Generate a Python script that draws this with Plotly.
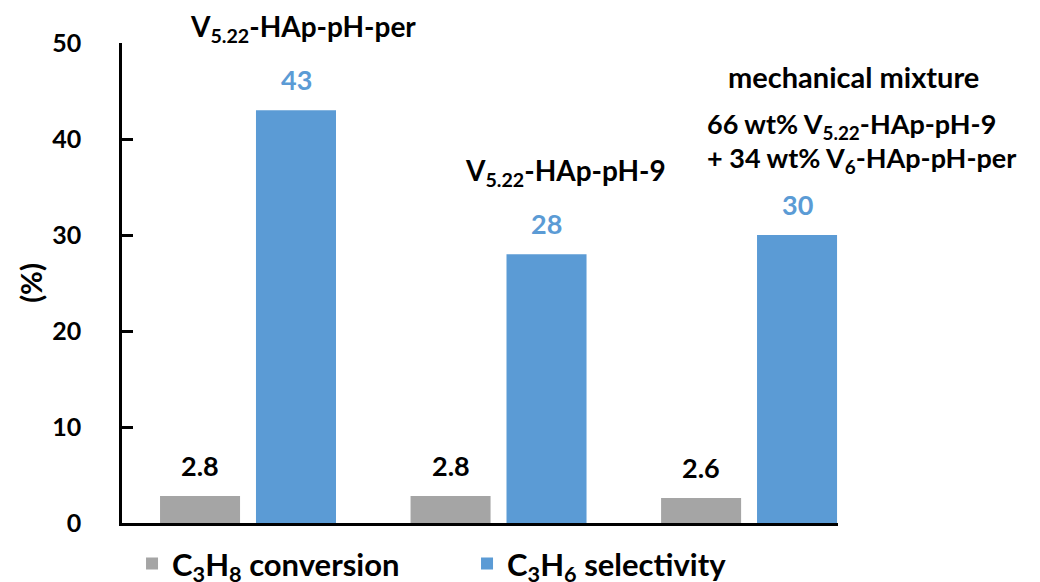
import plotly.graph_objects as go

# ---- data ----
categories = ["V5.22-HAp-pH-per", "V5.22-HAp-pH-9", "mechanical mixture"]
conversion = [2.8, 2.8, 2.6]          # C3H8 conversion (%)
selectivity = [43, 28, 30]            # C3H6 selectivity (%)
conversion_labels = ["2.8", "2.8", "2.6"]
selectivity_labels = ["43", "28", "30"]
y_ticks = [0, 10, 20, 30, 40, 50]

GREY = "#A5A5A5"
BLUE = "#5B9BD5"
FONT = "Lato"

fig = go.Figure()
fig.add_trace(go.Bar(
    x=categories, y=conversion, name="C<sub>3</sub>H<sub>8</sub> conversion",
    marker=dict(color=GREY, line=dict(width=0)),
))
fig.add_trace(go.Bar(
    x=categories, y=selectivity, name="C<sub>3</sub>H<sub>6</sub> selectivity",
    marker=dict(color=BLUE, line=dict(width=0)),
))

# value labels above bars
for i, c in enumerate(categories):
    fig.add_annotation(x=c, y=conversion[i], text=conversion_labels[i], showarrow=False,
                       xref="x", yref="y", xanchor="center", yanchor="bottom",
                       xshift=-48, yshift=12,
                       font=dict(family=FONT, size=27, color="black", weight="bold"))
    fig.add_annotation(x=c, y=selectivity[i], text=selectivity_labels[i], showarrow=False,
                       xref="x", yref="y", xanchor="center", yanchor="bottom",
                       xshift=48, yshift=12,
                       font=dict(family=FONT, size=27, color=BLUE, weight="bold"))

head_font = dict(family=FONT, size=28, color="black", weight="bold")
mix_font = dict(family=FONT, size=27, color="black", weight="bold")
# group headings (paper coordinates)
fig.add_annotation(x=0.253, y=1.031, xref="paper", yref="paper", showarrow=False,
                   text="V<sub>5.22</sub>-HAp-pH-per", xanchor="center", yanchor="middle",
                   font=head_font)
fig.add_annotation(x=0.620, y=0.731, xref="paper", yref="paper", showarrow=False,
                   text="V<sub>5.22</sub>-HAp-pH-9", xanchor="center", yanchor="middle",
                   font=head_font)
fig.add_annotation(x=1.022, y=0.931, xref="paper", yref="paper", showarrow=False,
                   text="mechanical mixture", xanchor="center", yanchor="middle",
                   font=dict(family=FONT, size=29, color="black", weight="bold"))
fig.add_annotation(x=0.814, y=0.829, xref="paper", yref="paper", showarrow=False,
                   text="66 wt% V<sub>5.22</sub>-HAp-pH-9", xanchor="left", yanchor="middle",
                   font=mix_font)
fig.add_annotation(x=0.814, y=0.758, xref="paper", yref="paper", showarrow=False,
                   text="+ 34 wt% V<sub>6</sub>-HAp-pH-per", xanchor="left", yanchor="middle",
                   font=mix_font)

fig.update_layout(
    width=1040, height=582,
    margin=dict(l=114, r=210, t=35, b=67, autoexpand=False),
    paper_bgcolor="white", plot_bgcolor="white",
    barmode="group", bargap=0.234, bargroupgap=0.166,
    font=dict(family=FONT, color="black", weight="bold"),
    showlegend=True,
    legend=dict(orientation="h", x=0.014, xanchor="left", y=-0.085, yanchor="middle",
                entrywidth=290, entrywidthmode="pixels",
                font=dict(family=FONT, size=31, color="black", weight="bold"),
                bgcolor="rgba(0,0,0,0)"),
    xaxis=dict(range=[-0.503, 2.355], showticklabels=False, ticks="",
               showline=True, linecolor="black", linewidth=3,
               showgrid=False, zeroline=False, fixedrange=True),
    yaxis=dict(range=[0, 50], tickvals=y_ticks, ticks="inside", ticklen=11,
               tickwidth=2.5, tickcolor="black",
               showline=True, linecolor="black", linewidth=2.5,
               showgrid=False, zeroline=False,
               tickfont=dict(family=FONT, size=25, color="black", weight="bold"),
               ticklabelstandoff=33,
               title=dict(text="(%)", standoff=2,
                          font=dict(family=FONT, size=29, color="black", weight="bold"))),
)

fig.write_html("out.html")
